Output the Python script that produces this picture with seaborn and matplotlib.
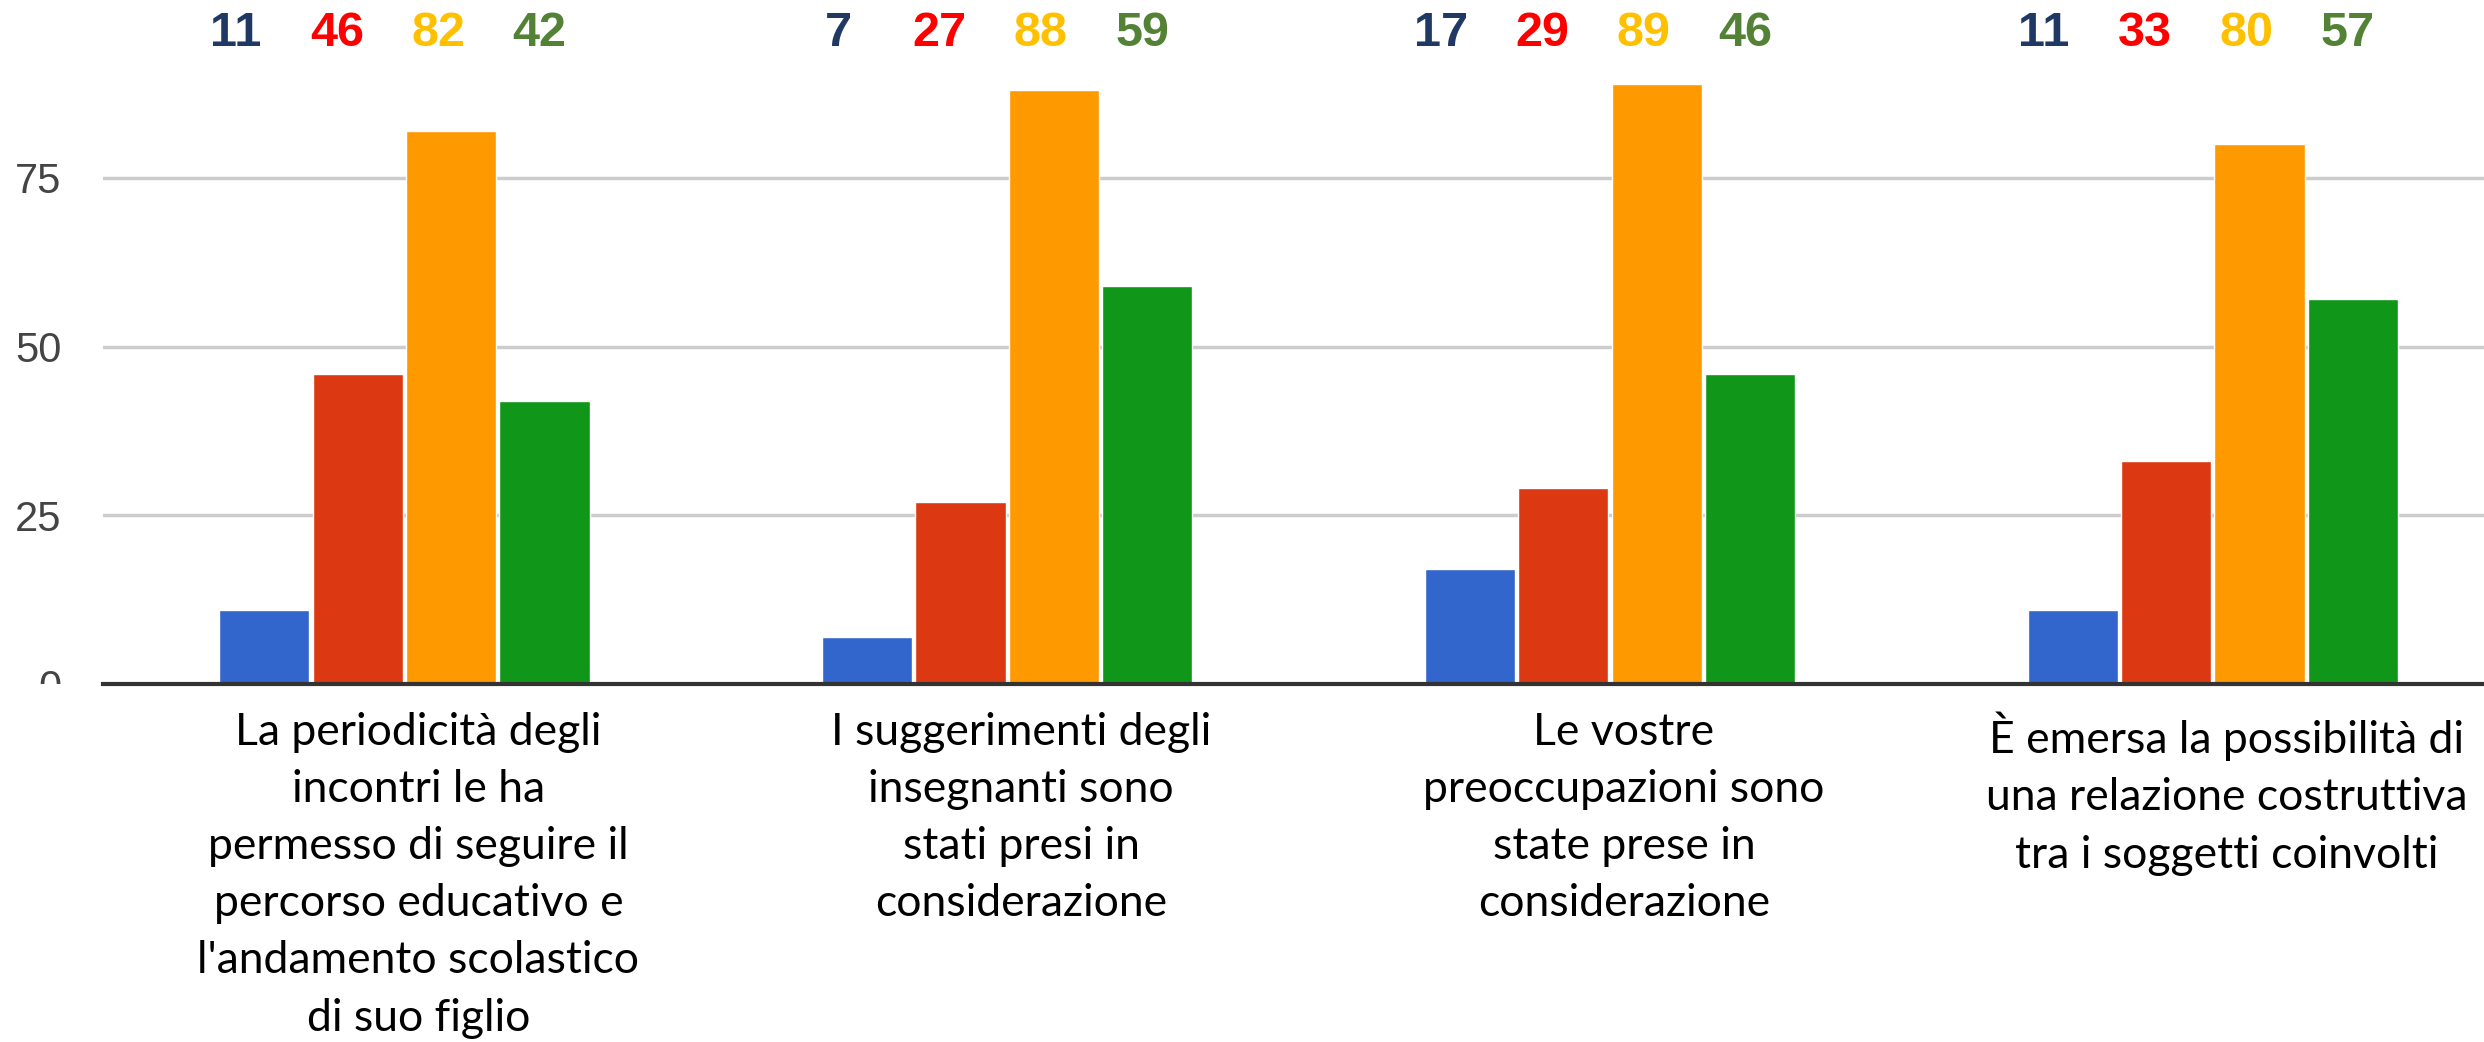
import numpy as np
import pandas as pd
import matplotlib
matplotlib.use("Agg")
import matplotlib.pyplot as plt
import matplotlib.transforms as mtransforms
import seaborn as sns
from matplotlib.patches import Rectangle

# ---- data ----
categories = [
    "La periodicità degli\nincontri le ha\npermesso di seguire il\npercorso educativo e\nl'andamento scolastico\ndi suo figlio",
    "I suggerimenti degli\ninsegnanti sono\nstati presi in\nconsiderazione",
    "Le vostre\npreoccupazioni sono\nstate prese in\nconsiderazione",
    "È emersa la possibilità di\nuna relazione costruttiva\ntra i soggetti coinvolti",
]
series = ["S1", "S2", "S3", "S4"]
values_s1 = [11, 7, 17, 11]
values_s2 = [46, 27, 29, 33]
values_s3 = [82, 88, 89, 80]
values_s4 = [42, 59, 46, 57]
y_ticks = [0, 25, 50, 75]

bar_colors = ["#3366CC", "#DC3912", "#FF9900", "#109618"]
num_colors = ["#1F3864", "#FF0000", "#FFC000", "#538135"]

rows = []
all_vals = [values_s1, values_s2, values_s3, values_s4]
for s, vals in zip(series, all_vals):
    for c, v in zip(categories, vals):
        rows.append({"category": c, "series": s, "value": v})
df = pd.DataFrame(rows)

sns.set_theme(style="white")
plt.rcParams["font.family"] = ["Lato", "DejaVu Sans"]

W, H, DPI = 2484, 1042, 100
fig = plt.figure(figsize=(W / DPI, H / DPI), dpi=DPI)
base_px = 684
left_px = 103
ax = fig.add_axes([left_px / W, 1 - base_px / H, 1 - left_px / W, base_px / H])

sns.barplot(data=df, x="category", y="value", hue="series", palette=bar_colors,
            order=categories, hue_order=series, width=0.62, gap=0.035,
            dodge=True, legend=False, ax=ax, saturation=1)

px_per_unit = (684 - 178) / 75.0
ax.set_ylim(0, base_px / px_per_unit)
ax.set_xlim(-0.5, 3.45)
ax.set_yticks(y_ticks)
ax.set_xlabel("")
ax.set_ylabel("")
ax.grid(axis="y", color="#CCCCCC", linewidth=2.5)
ax.set_axisbelow(True)
for sp in ["top", "right", "left"]:
    ax.spines[sp].set_visible(False)
ax.spines["bottom"].set_color("#333333")
ax.spines["bottom"].set_linewidth(3)
ax.spines["bottom"].set_zorder(5)

ax.tick_params(axis="y", length=0, pad=30, labelsize=30, labelcolor="#444444")
for lbl in ax.get_yticklabels():
    lbl.set_family(["Liberation Sans", "DejaVu Sans"])
ax.tick_params(axis="x", length=0, pad=20, labelsize=32, labelcolor="#000000")
shift = mtransforms.ScaledTranslation(14 / DPI, 0, fig.dpi_scale_trans)
for lbl in ax.get_xticklabels():
    lbl.set_linespacing(1.49)
    lbl.set_verticalalignment("top")
    lbl.set_transform(lbl.get_transform() + shift)

# clip the "0" tick label at the baseline like in the reference
clip_rect = Rectangle((0, 1 - base_px / H), 1, base_px / H, transform=fig.transFigure)
ylabels = ax.get_yticklabels()
if ylabels:
    ylabels[0].set_clip_path(clip_rect)

# value numbers along the top
trans = mtransforms.blended_transform_factory(ax.transData, fig.transFigure)
offsets = (np.arange(4) - 1.5) * 0.168 - 0.028
for si, vals in enumerate(all_vals):
    for ci, v in enumerate(vals):
        ax.text(ci + offsets[si], 1 - 33 / H, str(v), transform=trans,
                ha="center", va="center", fontsize=35, fontweight="bold",
                color=num_colors[si],
                family=["Liberation Sans Narrow", "Liberation Sans", "DejaVu Sans"])

fig.savefig("out.png", dpi=DPI, facecolor="white")
